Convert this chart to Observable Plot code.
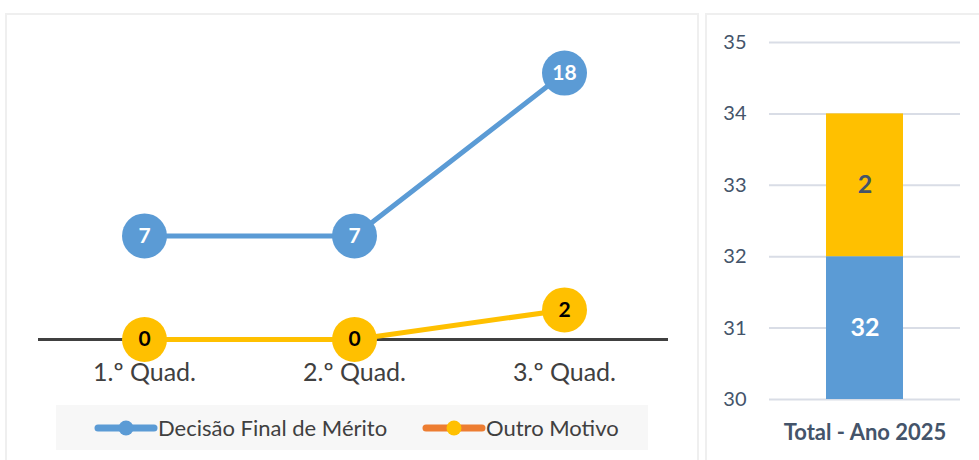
<!DOCTYPE html>
<html><head><meta charset="utf-8">
<script src="https://cdn.jsdelivr.net/npm/d3@7"></script>
<script src="https://cdn.jsdelivr.net/npm/@observablehq/plot@0.6"></script>
<style>
html,body{margin:0;padding:0;background:#fff;width:979px;height:460px;overflow:hidden;font-family:Lato,"Open Sans",sans-serif;}
#wrap{position:relative;width:979px;height:460px;}
.panel{position:absolute;border:2px solid #efefef;box-sizing:border-box;}
.abs{position:absolute;left:0;top:0;}
#legend{position:absolute;left:56px;top:405px;width:592px;height:45px;background:#f7f7f7;font-size:22px;color:#404040;}
.item{display:flex;align-items:center;position:absolute;top:0;height:45px;}
</style></head>
<body><div id="wrap">
<div class="panel" style="left:5px;top:13px;width:694px;height:460px;"></div>
<div class="panel" style="left:705px;top:13px;width:290px;height:460px;"></div>
<div id="left" class="abs"></div>
<div id="right" class="abs" style="left:705px;"></div>
<div id="legend"></div>
</div>
<script>
const quarters = ["1.º Quad.", "2.º Quad.", "3.º Quad."];
const meritValues = [7, 7, 18];
const otherValues = [0, 0, 2];
const seriesNames = ["Decisão Final de Mérito", "Outro Motivo"];
const totalCategory = "Total - Ano 2025";
const totalValues = [32, 2];
const totalTicks = [30, 31, 32, 33, 34, 35];

const blue = "#5B9BD5", yellow = "#FFC000", orange = "#ED7D31";

const lineData = [
  ...quarters.map((q, i) => ({q, v: meritValues[i], s: seriesNames[0]})),
  ...quarters.map((q, i) => ({q, v: otherValues[i], s: seriesNames[1]}))
];
const merit = lineData.filter(d => d.s === seriesNames[0]);
const other = lineData.filter(d => d.s === seriesNames[1]);

const left = Plot.plot({
  width: 700, height: 400,
  marginLeft: 38, marginRight: 32, marginTop: 20, marginBottom: 61,
  style: {fontFamily: "Lato, sans-serif", background: "transparent", overflow: "visible"},
  x: {type: "point", domain: quarters, range: [143, 564], padding: 0},
  y: {domain: [0, 20], range: [339, 43], axis: null},
  marks: [
    Plot.ruleY([0], {stroke: "#404040", strokeWidth: 3}),
    Plot.axisX({tickSize: 0, tickPadding: 24, fontSize: 25, color: "#404040", label: null}),
    Plot.line(merit, {x: "q", y: "v", stroke: blue, strokeWidth: 5}),
    Plot.line(other, {x: "q", y: "v", stroke: yellow, strokeWidth: 5}),
    Plot.dot(merit, {x: "q", y: "v", r: 22.5, fill: blue}),
    Plot.dot(other, {x: "q", y: "v", r: 22.5, fill: yellow}),
    Plot.text(merit, {x: "q", y: "v", text: d => String(d.v), fill: "white", fontWeight: "bold", fontSize: 21}),
    Plot.text(other, {x: "q", y: "v", text: d => String(d.v), fill: "black", fontWeight: "bold", fontSize: 21})
  ]
});
document.getElementById("left").appendChild(left);

// stacked bar
let acc = 0;
const barData = totalValues.map((v, i) => {
  const d = {cat: totalCategory, s: seriesNames[i], y1: acc, y2: acc + v, v};
  acc += v; return d;
});
const yMin = totalTicks[0];
barData.forEach(d => { d.mid = (Math.max(d.y1, yMin) + d.y2) / 2; });

const right = Plot.plot({
  width: 274, height: 460,
  marginLeft: 64, marginRight: 19, marginTop: 20, marginBottom: 61,
  style: {fontFamily: "Lato, sans-serif", background: "transparent", overflow: "visible"},
  x: {type: "band", domain: [totalCategory], padding: 0.425},
  y: {domain: [30, 35], range: [399, 42], clamp: true},
  marks: [
    Plot.ruleY(totalTicks, {stroke: "#d9dde6", strokeWidth: 2}),
    Plot.axisY({ticks: totalTicks, tickFormat: "d", tickSize: 0, tickPadding: 23, fontSize: 20, color: "#44546a", label: null}),
    Plot.axisX({tickSize: 0, tickPadding: 25, fontSize: 22, fontWeight: "bold", color: "#44546a", label: null}),
    Plot.barY(barData, {x: "cat", y1: "y1", y2: "y2", fill: (d) => d.s === seriesNames[0] ? blue : yellow}),
    Plot.text(barData, {x: "cat", y: "mid", text: d => String(d.v), fontSize: 25, fontWeight: "bold",
      fill: d => d.s === seriesNames[0] ? "white" : "#44546a"})
  ]
});
right.querySelectorAll("g[aria-label='x-axis tick label'] text, g[aria-label='x-axis tick label']").forEach(e => e.setAttribute("font-weight", "bold"));
document.getElementById("right").appendChild(right);

// legend
const legend = document.getElementById("legend");
const items = [
  {name: seriesNames[0], line: blue, dot: blue, left: 38},
  {name: seriesNames[1], line: orange, dot: yellow, left: 366}
];
items.forEach(it => {
  const div = document.createElement("div");
  div.className = "item";
  div.style.left = it.left + "px";
  div.innerHTML = `<svg width="64" height="18"><line x1="4" y1="9" x2="60" y2="9" stroke="${it.line}" stroke-width="7" stroke-linecap="round"/><circle cx="32" cy="9" r="7.5" fill="${it.dot}"/></svg><span>${it.name}</span>`;
  legend.appendChild(div);
});
</script>
</body></html>
